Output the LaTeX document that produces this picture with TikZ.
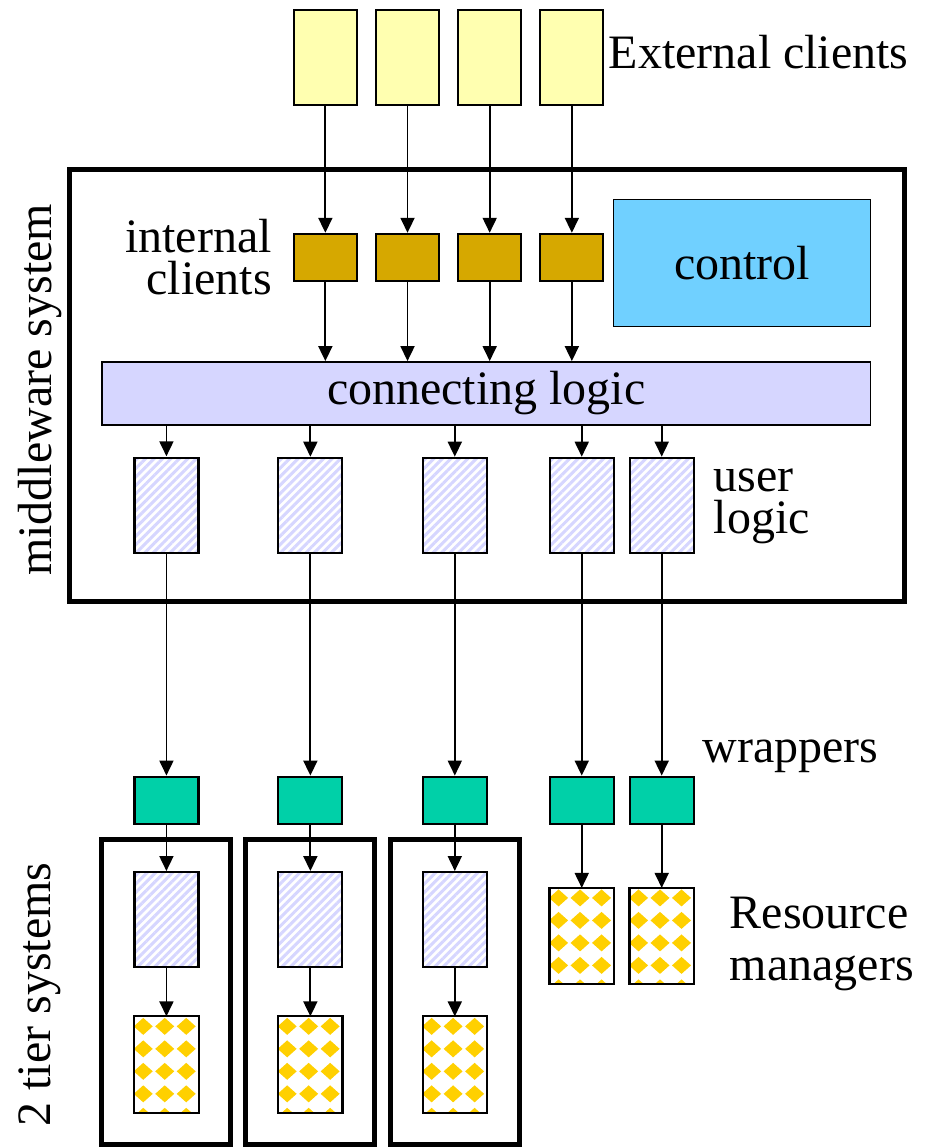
\documentclass[tikz,border=0pt]{standalone}
\usepackage{fontspec}
\setmainfont{Liberation Serif}
\usetikzlibrary{positioning,arrows.meta,patterns.meta,calc}

\definecolor{extyellow}{RGB}{255,255,176}
\definecolor{intgold}{RGB}{214,168,0}
\definecolor{ctrlblue}{RGB}{112,208,255}
\definecolor{lavender}{RGB}{214,214,255}
\definecolor{wrapteal}{RGB}{0,208,168}
\definecolor{rmyellow}{RGB}{255,208,0}

\tikzset{
  box/.style={draw, line width=2.2pt, inner sep=0pt},
  extclient/.style={box, fill=extyellow, minimum width=63pt, minimum height=95pt},
  intclient/.style={box, fill=intgold, minimum width=63pt, minimum height=47pt},
  userlogic/.style={box, pattern={Lines[angle=45,distance=6pt,line width=3pt]},
    pattern color=lavender, minimum width=64pt, minimum height=95pt},
  wrapper/.style={box, fill=wrapteal, minimum width=64pt, minimum height=47pt},
  resmgr/.style={inner sep=0pt, minimum width=64pt, minimum height=96pt},
  system/.style={draw, line width=5pt, inner sep=0pt},
  lbl/.style={font=\fontsize{48}{42}\selectfont, inner sep=0pt},
  arr/.style={-{Triangle[width=14pt,length=15pt]}, line width=1.8pt},
}

\begin{document}
\begin{tikzpicture}[x=1pt, y=-1pt]
  \fill[white] (0,0) rectangle (925,1147);

  % middleware system
  \node[system, minimum width=835pt, minimum height=432pt] (mw) at (487.5,386) {};
  \node[lbl, rotate=90] (mwlabel) at (40,390) {middleware system};

  % external and internal clients
  \node[extclient] (ext1) at (325.5,57.5) {};
  \node[extclient, right=17pt of ext1] (ext2) {};
  \node[extclient, right=17pt of ext2] (ext3) {};
  \node[extclient, right=17pt of ext3] (ext4) {};
  \node[lbl] (extlabel) at (759,52) {External clients};
  \foreach \i in {1,...,4} {
    \node[intclient] (int\i) at (ext\i |- 0,257.5) {};
    \draw[arr] (ext\i) -- (int\i);
  }
  \node[lbl, align=right, anchor=east] (intlabel) at (272,257) {internal\\clients};

  \node[box, line width=1.5pt, fill=ctrlblue, minimum width=257pt, minimum height=127pt, lbl] (ctrl) at (742.5,263) {control};

  % connecting logic
  \node[box, line width=1.5pt, fill=lavender, minimum width=769pt, minimum height=63pt, lbl] (conn) at (486.5,393.5) {connecting logic};
  \foreach \i in {1,...,4}
    \draw[arr] (int\i) -- (int\i |- conn.north);

  % user logic and wrappers
  \foreach \i/\x in {1/166.5, 2/310.5, 3/455, 4/582, 5/662} {
    \node[userlogic] (ul\i) at (\x,505.5) {};
    \node[wrapper] (wr\i) at (\x,800.5) {};
    \draw[arr] (ul\i |- conn.south) -- (ul\i);
    \draw[arr] (ul\i) -- (wr\i);
  }
  \node[lbl, align=left, anchor=west] (ullabel) at (714,507) {user\\logic};
  \node[lbl] (wrlabel) at (791,757) {wrappers};

  % 2 tier systems
  \foreach \i in {1,2,3} {
    \node[system, minimum width=129pt, minimum height=305pt] (tier\i) at (wr\i |- 0,992.5) {};
    \node[userlogic] (tl\i) at (wr\i |- 0,920) {};
    \node[resmgr] (tr\i) at (wr\i |- 0,1065) {};
    \draw[arr] (wr\i) -- (tl\i);
    \draw[arr] (tl\i) -- (tr\i);
  }
  \node[lbl, rotate=90] (tierlabel) at (40,995) {2 tier systems};

  % resource managers
  \foreach \i in {4,5} {
    \node[resmgr] (rm\i) at (wr\i |- 0,936.5) {};
    \draw[arr] (wr\i) -- (rm\i);
  }
  \node[lbl, align=left, anchor=west, font=\fontsize{48}{52}\selectfont] (rmlabel) at (730,944) {Resource\\managers};

  % diamond fill of the resource managers
  \foreach \n in {tr1,tr2,tr3,rm4,rm5} {
    \begin{scope}
      \clip (\n.north west) rectangle (\n.south east);
      \foreach \a in {0,1,2,3}
        \foreach \b in {0,...,4}
          \fill[rmyellow] ($(\n.north west)+(9+21.5*\a,10+22.5*\b)$)
            +(-9.5,0) -- +(0,-8.5) -- +(9.5,0) -- +(0,8.5) -- cycle;
    \end{scope}
    \draw[line width=2.2pt] (\n.north west) rectangle (\n.south east);
  }
\end{tikzpicture}
\end{document}
